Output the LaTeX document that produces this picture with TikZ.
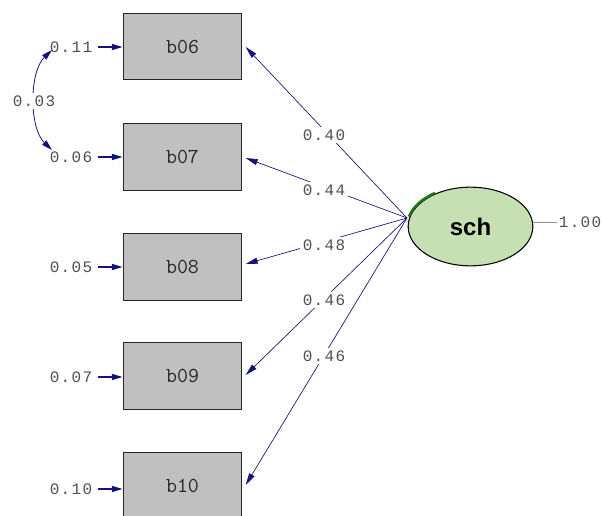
\documentclass[tikz,border=0pt]{standalone}
\usepackage{fontspec}
\setmainfont{Liberation Sans}
\newfontfamily\numfont[LetterSpace=8]{Liberation Mono}
\usetikzlibrary{arrows.meta,shapes.geometric}
\definecolor{navy}{RGB}{20,20,120}
\definecolor{labgray}{RGB}{80,80,80}
\definecolor{boxgray}{RGB}{192,192,192}
\definecolor{latgreen}{RGB}{198,224,180}
\definecolor{arcgreen}{RGB}{30,120,30}
\tikzset{
  obs/.style={draw=black!85, fill=boxgray, line width=0.8pt, minimum width=89pt, minimum height=50pt, inner sep=0pt, font=\ttfamily\fontsize{16}{16}\selectfont, text=black!85},
  lat/.style={ellipse, draw=black, fill=latgreen, line width=0.8pt, minimum width=93.5pt, minimum height=59pt, inner sep=0pt, font=\bfseries\fontsize{18}{18}\selectfont},
  lab/.style={font=\numfont\fontsize{12}{12}\selectfont, text=labgray, inner sep=1pt},
  wlab/.style={lab, fill=white, inner sep=2pt},
  path/.style={draw=navy, line width=0.5pt, -{Triangle[length=9pt,width=4.5pt]}},
  errarr/.style={draw=navy, line width=1pt, -{Triangle[length=8pt,width=4.5pt]}},
}
\begin{document}
\begin{tikzpicture}[x=0.75pt,y=-0.75pt]
\useasboundingbox (0,0) rectangle (602,516);
% observed variables
\node[obs] (b06) at (182.5,46.5) {b06};
\node[obs] (b07) at (182.5,157) {b07};
\node[obs] (b08) at (182.5,267) {b08};
\node[obs] (b09) at (182.5,376) {b09};
\node[obs] (b10) at (182.5,486) {b10};
% latent
\node[lat] (sch) at (470.5,226.5) {sch};
\draw[draw=arcgreen, line width=1.8pt] plot[domain=124:166, samples=25, smooth] ({470.5+63.5*cos(\x)},{226.5-40.5*sin(\x)});
\coordinate (o) at (407,218);
% paths
\draw[path] (o) -- ([xshift=2.5pt]b06.east |- 0,47);
\draw[path] (o) -- ([xshift=2.5pt]b07.east |- 0,158);
\draw[path] (o) -- ([xshift=2.5pt]b08.east |- 0,264);
\draw[path] (o) -- ([xshift=2.5pt]b09.east |- 0,375);
\draw[path] (o) -- ([xshift=2.5pt]b10.east |- 0,485);
\node[wlab] (l1) at (324,135) {0.40};
\node[wlab] (l2) at (324,190) {0.44};
\node[wlab] (l3) at (324,245) {0.48};
\node[wlab] (l4) at (324,300) {0.46};
\node[wlab] (l5) at (324,356) {0.46};
% error variances
\node[lab] (e06) at (71,47) {0.11};
\node[lab] (e07) at (71,157) {0.06};
\node[lab] (e08) at (71,267) {0.05};
\node[lab] (e09) at (71,377) {0.07};
\node[lab] (e10) at (71,489) {0.10};
\foreach \i in {06,07,08,09,10} {
  \draw[errarr] (e\i.east) ++(3pt,0) -- (b\i.west |- e\i.east);
}
% covariance
\coordinate (c1) at (52,50);
\coordinate (c2) at (52,150);
\draw[draw=navy, line width=0.6pt, {Triangle[length=8pt,width=4.5pt]}-{Triangle[length=8pt,width=4.5pt]}] (c1) .. controls (29,72) and (29,128) .. (c2);
\node[wlab] (cv) at (34,101) {0.03};
% residual of latent
\node[lab] (r) at (580,222) {1.00};
\draw[draw=black!45, line width=0.5pt] (sch.east |- r.west) -- (r.west);
\end{tikzpicture}
\end{document}
